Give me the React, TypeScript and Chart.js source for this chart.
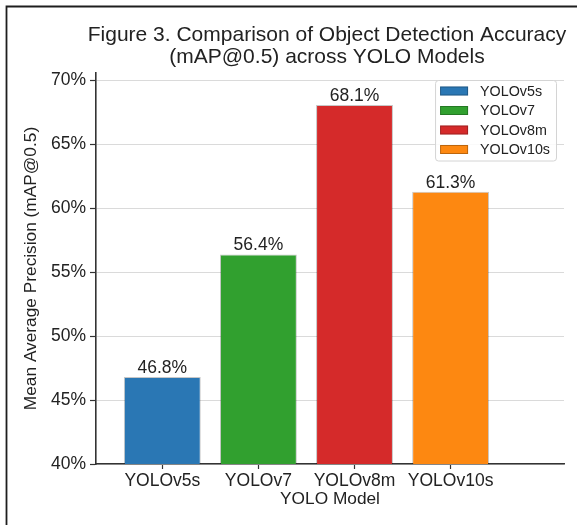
import { useEffect, useRef } from "react";
import { Chart, registerables } from "chart.js";

Chart.register(...registerables);

// Data
const models = ["YOLOv5s", "YOLOv7", "YOLOv8m", "YOLOv10s"];
const mapScores = [46.8, 56.4, 68.1, 61.3];
const barColors = ["#2a77b4", "#31a02f", "#d52a2a", "#fd8811"];
const yTicks = [40, 45, 50, 55, 60, 65, 70];
const titleLines = [
  "Figure 3. Comparison of Object Detection Accuracy",
  "(mAP@0.5) across YOLO Models",
];
const xAxisTitle = "YOLO Model";
const yAxisTitle = "Mean Average Precision (mAP@0.5)";

const FONT = "'Liberation Sans', Arial, Helvetica, sans-serif";
const INK = "#222222";
const AXIS = "#333333";

// White background, outer frame and the two-line figure title
const framePlugin = {
  id: "frameAndTitle",
  beforeDraw(chart: any) {
    const { ctx, width, height } = chart;
    ctx.save();
    ctx.fillStyle = "#ffffff";
    ctx.fillRect(0, 0, width, height);
    ctx.restore();
  },
  afterDraw(chart: any) {
    const { ctx, width, height, chartArea } = chart;
    ctx.save();
    ctx.strokeStyle = "#1e1e1e";
    ctx.lineWidth = 1.8;
    ctx.beginPath();
    ctx.moveTo(6.5, height);
    ctx.lineTo(6.5, 6.5);
    ctx.lineTo(width, 6.5);
    ctx.stroke();

    const cx = (chartArea.left + chartArea.right) / 2 - 3;
    ctx.fillStyle = INK;
    ctx.font = `21px ${FONT}`;
    ctx.textAlign = "center";
    ctx.textBaseline = "middle";
    ctx.fillText(titleLines[0], cx, 35.5);
    ctx.fillText(titleLines[1], cx, 57.5);
    ctx.restore();
  },
};

// Percentage labels above each bar
const valueLabelPlugin = {
  id: "valueLabels",
  afterDatasetsDraw(chart: any) {
    const { ctx } = chart;
    const meta = chart.getDatasetMeta(0);
    ctx.save();
    ctx.fillStyle = INK;
    ctx.font = `17.5px ${FONT}`;
    ctx.textAlign = "center";
    ctx.textBaseline = "alphabetic";
    meta.data.forEach((bar: any, i: number) => {
      ctx.fillText(`${mapScores[i].toFixed(1)}%`, bar.x, bar.y - 4);
    });
    ctx.restore();
  },
};

// Boxed legend in the upper right of the plot area
const legendPlugin = {
  id: "boxLegend",
  afterDraw(chart: any) {
    const { ctx, chartArea } = chart;
    ctx.save();
    ctx.font = `14.3px ${FONT}`;
    const maxText = Math.max(...models.map((m) => ctx.measureText(m).width));
    const padL = 5;
    const patchW = 28;
    const patchH = 9;
    const gap = 12;
    const padR = 6;
    const rowH = 19.5;
    const boxW = padL + patchW + gap + maxText + padR;
    const boxH = 11 * 2 + rowH * (models.length - 1);
    const boxRight = chartArea.right - 8;
    const boxLeft = boxRight - boxW;
    const boxTop = chartArea.top + 7;

    ctx.fillStyle = "rgba(255,255,255,0.85)";
    ctx.strokeStyle = "#d4d4d4";
    ctx.lineWidth = 1;
    ctx.beginPath();
    (ctx as any).roundRect(boxLeft + 0.5, boxTop + 0.5, boxW, boxH, 3);
    ctx.fill();
    ctx.stroke();

    ctx.textAlign = "left";
    ctx.textBaseline = "middle";
    models.forEach((m, i) => {
      const cy = boxTop + 11 + i * rowH;
      ctx.fillStyle = barColors[i];
      ctx.fillRect(boxLeft + padL, cy - patchH / 2, patchW, patchH);
      ctx.strokeStyle = "rgba(0,0,0,0.25)";
      ctx.strokeRect(boxLeft + padL + 0.5, cy - patchH / 2 + 0.5, patchW - 1, patchH - 1);
      ctx.fillStyle = INK;
      ctx.fillText(m, boxLeft + padL + patchW + gap, cy + 1);
    });
    ctx.restore();
  },
};

export default function App() {
  const canvasRef = useRef<HTMLCanvasElement | null>(null);

  useEffect(() => {
    const canvas = canvasRef.current;
    if (!canvas) return;

    const chart = new Chart(canvas, {
      type: "bar",
      data: {
        datasets: [
          {
            label: "mAP@0.5",
            data: mapScores.map((v, i) => ({ x: i, y: v })),
            backgroundColor: barColors,
            borderColor: "rgba(0,0,0,0.22)",
            borderWidth: 1,
            barPercentage: 0.8,
            categoryPercentage: 1,
          },
        ],
      },
      options: {
        responsive: false,
        animation: false,
        devicePixelRatio: 1,
        layout: { padding: { left: 17, right: 13, top: 73, bottom: 11 } },
        plugins: {
          legend: { display: false },
          title: { display: false },
          tooltip: { enabled: false },
        },
        scales: {
          x: {
            type: "linear",
            min: -0.69,
            max: 4.18,
            offset: false,
            afterBuildTicks(scale: any) {
              scale.ticks = models.map((_, i) => ({ value: i }));
            },
            afterFit(scale: any) {
              scale.height = 50;
            },
            ticks: {
              autoSkip: false,
              maxRotation: 0,
              padding: 2,
              color: INK,
              font: { family: FONT, size: 17.5 },
              callback: (v: any) => models[v as number] ?? "",
            },
            grid: {
              display: true,
              offset: false,
              drawOnChartArea: false,
              drawTicks: true,
              tickLength: 5,
              tickColor: AXIS,
              tickWidth: 1.2,
            },
            border: { display: true, color: AXIS, width: 1.6 },
            title: {
              display: true,
              text: xAxisTitle,
              color: INK,
              font: { family: FONT, size: 17.3 },
              padding: { top: 4, bottom: 4 },
            },
          },
          y: {
            type: "linear",
            min: 40,
            max: 70.6,
            afterBuildTicks(scale: any) {
              scale.ticks = yTicks.map((v) => ({ value: v }));
            },
            afterFit(scale: any) {
              scale.width = 79;
            },
            ticks: {
              padding: 4,
              color: INK,
              font: { family: FONT, size: 17.5 },
              callback: (v: any) => `${v}%`,
            },
            grid: {
              color: "#dadada",
              lineWidth: 1,
              drawTicks: true,
              tickLength: 6,
              tickColor: AXIS,
              tickWidth: 1.2,
            },
            border: { display: true, color: AXIS, width: 1.6 },
            title: {
              display: true,
              text: yAxisTitle,
              color: INK,
              font: { family: FONT, size: 17.3 },
              padding: { top: 4, bottom: 4 },
            },
          },
        },
      },
      plugins: [framePlugin, valueLabelPlugin, legendPlugin],
    } as any);

    return () => chart.destroy();
  }, []);

  return (
    <div style={{ position: "absolute", left: 0, top: 0, width: 577, height: 525 }}>
      <canvas ref={canvasRef} width={577} height={525} style={{ display: "block" }} />
    </div>
  );
}
